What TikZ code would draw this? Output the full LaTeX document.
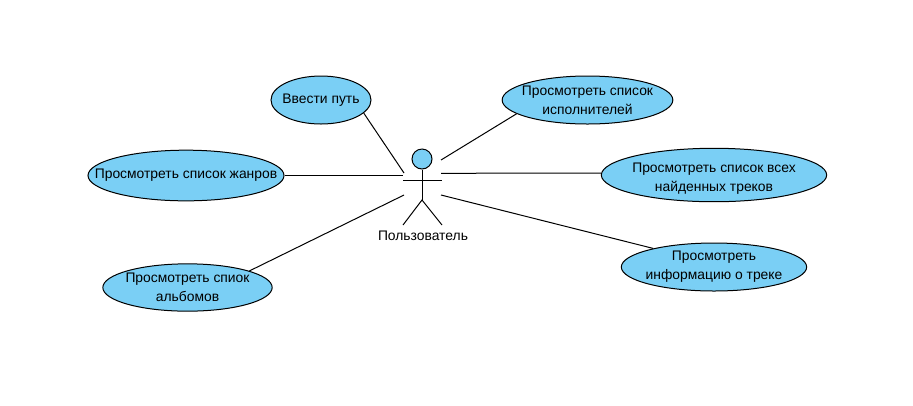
\documentclass[tikz,border=0pt]{standalone}
\usepackage{fontspec}
\setmainfont{Liberation Sans}
\usetikzlibrary{shapes.geometric}
\definecolor{usecaseblue}{HTML}{7ACFF5}

\begin{document}
\begin{tikzpicture}[x=0.75pt,y=-0.75pt,line width=0.75pt,
  use node/.style={ellipse,draw,fill=usecaseblue,inner xsep=-17pt,inner ysep=0pt,align=center,font=\fontsize{10.4}{14.2}\selectfont},
  head node/.style={circle,draw,fill=usecaseblue,inner sep=0pt,minimum size=15pt},
  actor node/.style={font=\fontsize{10.4}{14.2}\selectfont,inner sep=0pt}]

  \useasboundingbox (0,0) rectangle (913,405);

  \node[use node,minimum width=75pt,minimum height=36pt] (path) at (321,100) {Ввести путь};
  \node[use node,minimum width=147pt,minimum height=38pt] (genres) at (186,175.5) {Просмотреть список жанров};
  \node[use node,minimum width=127pt,minimum height=35.5pt] (albums) at (187.5,287.5) {Просмотреть спиок\\альбомов};
  \node[use node,minimum width=128pt,minimum height=36pt] (artists) at (587.5,100) {Просмотреть список\\исполнителей};
  \node[use node,minimum width=169pt,minimum height=37.5pt] (tracks) at (714,175) {\rule{0pt}{12pt}Просмотреть список всех\\найденных треков};
  \node[use node,minimum width=139pt,minimum height=36pt] (info) at (714,267) {Просмотреть\\информацию о треке};

  % actor
  \node[head node] (head) at (422,159) {};
  \coordinate (hip) at (422,200);
  \coordinate (armL) at (403,180);
  \coordinate (armR) at (442,180);
  \coordinate (footL) at (403,225);
  \coordinate (footR) at (442,225);
  \node[actor node] (user) at (423,235.5) {Пользователь};
  \draw (head) -- (hip);
  \draw (armL) -- (armR);
  \draw (footL) -- (hip) -- (footR);

  % free ends near the actor
  \coordinate (endPath) at (404,173);
  \coordinate (endGenres) at (403,175.5);
  \coordinate (endAlbums) at (404,195);
  \coordinate (endArtists) at (441,160);
  \coordinate (endTracks) at (441,173.3);
  \coordinate (endInfo) at (441,195);

  \path[-]
       (path.-17) edge (endPath)
       (genres.east) edge (endGenres)
       (albums.15) edge (endAlbums)
       (artists.191) edge (endArtists)
       (tracks.179) edge (endTracks)
       (info.163) edge (endInfo);
\end{tikzpicture}
\end{document}
